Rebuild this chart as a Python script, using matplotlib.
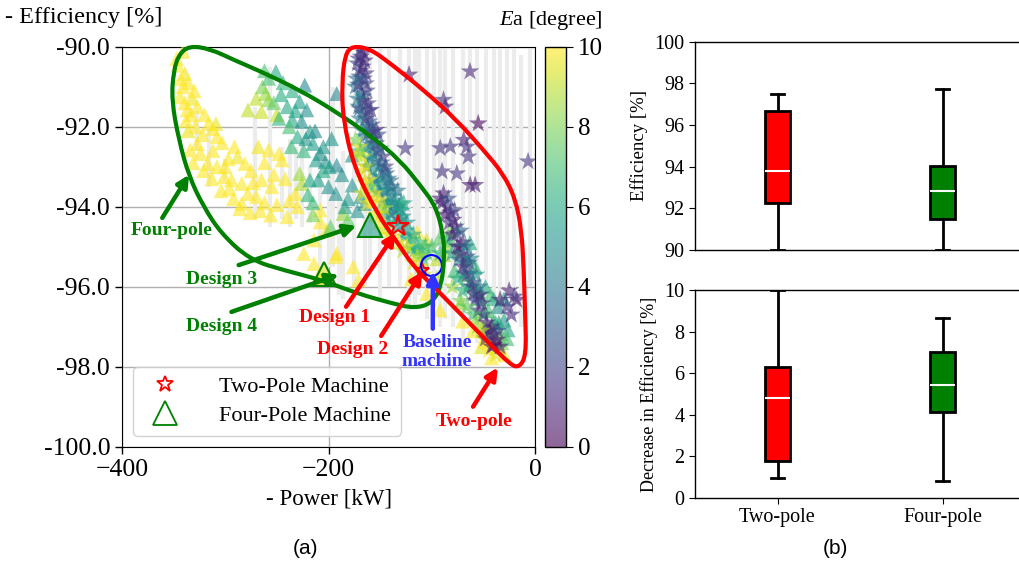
import numpy as np
import matplotlib
matplotlib.use("Agg")
import matplotlib.pyplot as plt
from matplotlib.path import Path
from matplotlib.patches import PathPatch
from matplotlib.lines import Line2D

plt.rcParams['font.family'] = ['Liberation Serif', 'DejaVu Serif']
plt.rcParams['mathtext.fontset'] = 'custom'
plt.rcParams['mathtext.rm'] = 'Liberation Serif'
plt.rcParams['mathtext.it'] = 'Liberation Serif:italic'

# ---------------- data ----------------
# four-pole machines: power [kW], efficiency [%], Ea [degree]
four_pts = [
    (-341, -90.12, 10), (-346, -90.46, 10), (-339, -90.67, 9.8), (-341, -91.0, 10),
    (-344, -91.25, 10), (-332, -91.29, 9.8), (-337, -91.58, 10), (-327, -91.5, 10),
    (-316, -91.92, 10), (-309, -91.92, 9.8), (-308, -92.25, 10), (-327, -92.42, 10),
    (-334, -92.58, 10), (-324, -92.67, 10), (-317, -92.92, 10), (-308, -93.0, 10),
    (-301, -93.25, 10), (-294, -93.33, 10), (-291, -92.5, 10), (-288, -92.75, 9.8),
    (-281, -92.92, 10), (-284, -93.42, 10), (-278, -93.67, 10), (-284, -93.92, 10),
    (-270, -93.75, 10), (-268, -92.5, 9.8), (-258, -92.58, 10), (-248, -92.67, 10),
    (-245, -92.83, 10), (-265, -93.33, 10), (-255, -93.5, 10), (-232, -93.67, 10),
    (-256, -94.21, 10), (-240, -94.25, 10), (-208, -94.08, 10), (-208, -94.38, 10),
    (-336, -90.9, 10), (-330, -91.1, 10), (-338, -91.85, 10), (-322, -92.2, 10),
    (-312, -92.6, 10), (-300, -93.0, 10), (-296, -93.55, 10), (-273, -93.4, 10),
    (-262, -93.9, 10), (-250, -93.95, 10), (-242, -93.3, 10), (-347, -90.3, 10),
    (-336, -92.1, 9.7),
    (-343, -90.8, 10), (-339, -91.4, 10), (-333, -91.7, 10), (-329, -92.0, 10),
    (-331, -92.9, 10), (-321, -93.1, 10), (-313, -93.3, 10), (-304, -93.6, 10),
    (-292, -93.8, 10), (-286, -94.05, 10), (-276, -94.15, 10), (-266, -94.1, 10),
    (-320, -91.7, 10), (-312, -92.05, 10), (-303, -92.4, 10), (-297, -92.8, 10),
    (-275, -93.1, 10), (-262, -92.9, 10), (-253, -93.2, 10), (-238, -93.85, 10),
    (-230, -94.0, 10),
    (-278, -91.58, 9.0), (-270, -91.29, 9.0), (-265, -91.62, 9.2), (-261, -91.17, 8.5),
    (-258, -91.33, 8.3), (-228, -93.17, 8.5), (-226, -93.42, 8.8), (-264, -91.0, 8.0),
    (-250, -91.7, 9.2),
    (-202, -94.58, 10), (-193, -95.25, 10), (-214, -95.42, 10), (-224, -95.17, 10),
    (-210, -95.75, 10), (-186, -94.17, 8.5), (-181, -94.33, 7.5), (-171, -95.83, 10),
    (-176, -95.5, 10), (-214, -94.83, 10), (-192, -95.17, 10), (-114, -94.63, 10),
    (-105, -94.83, 9.5), (-105, -96.17, 10), (-92, -96.58, 10), (-120, -95.8, 10),
    (-251, -90.62, 6.0), (-258, -90.79, 7.0), (-223, -90.96, 4.5), (-240, -91.5, 6.0),
    (-228, -91.37, 5.5), (-221, -91.58, 5.0), (-248, -91.79, 6.5), (-235, -91.83, 6.0),
    (-226, -91.87, 5.0), (-218, -92.12, 5.5), (-230, -92.25, 6.0), (-215, -92.42, 5.5),
    (-208, -92.67, 5.0), (-212, -92.83, 5.5), (-203, -92.87, 5.0), (-192, -92.96, 4.5),
    (-218, -93.33, 6.0), (-210, -93.33, 5.5), (-200, -93.5, 5.0), (-192, -91.17, 4.5),
    (-244, -90.9, 6.5), (-235, -91.1, 6.2), (-177, -92.71, 5.0), (-193, -93.67, 5.0),
    (-177, -93.46, 5.0), (-165, -93.92, 5.0), (-184, -94.0, 5.5), (-169, -93.75, 5.0),
    (-197, -92.3, 5.2), (-205, -93.1, 6.0), (-224, -92.6, 6.5), (-238, -92.0, 7.0),
    (-215, -93.9, 6.8), (-198, -94.5, 7.5), (-215, -94.2, 8.0),
    (-246, -91.2, 6.2), (-232, -91.6, 5.8), (-222, -92.3, 5.2), (-213, -92.1, 4.8),
    (-205, -92.5, 5.2), (-199, -93.0, 5.5), (-187, -93.2, 5.0), (-181, -93.8, 5.3),
    (-172, -94.1, 5.0), (-220, -93.7, 6.5), (-236, -92.5, 6.8), (-253, -91.4, 7.5),
    (-262, -90.6, 7.0),
    (-92, -94.75, 7.5), (-82, -94.83, 7.0), (-63, -94.9, 6.0), (-66, -95.3, 7.0),
    (-58, -95.5, 6.5), (-48, -96.0, 6.0), (-43, -96.2, 7.0), (-40, -96.3, 6.0),
    (-30, -96.83, 5.5), (-26, -97.08, 6.0), (-33, -97.17, 7.5), (-36, -96.5, 5.0),
    (-49, -96.6, 7.5), (-56, -96.75, 8.5), (-72, -96.4, 8.5), (-44, -97.3, 9.5),
    (-36, -97.5, 10), (-29.5, -97.7, 10), (-52, -97.5, 9.5), (-82, -94.58, 8.0),
    (-70, -96.86, 10), (-60, -97.1, 10), (-49, -97.36, 10), (-42, -97.78, 10),
    (-88, -95.2, 8.5), (-78, -95.6, 7.0), (-62, -95.9, 6.5), (-38, -96.9, 6.5),
    (-30, -96.3, 5.5),
    (-45, -96.6, 7.0), (-40, -96.9, 6.5), (-35, -96.9, 5.8), (-32, -97.4, 8.0),
    (-27, -97.3, 7.0), (-47, -97.0, 8.0), (-41, -97.1, 8.5), (-52, -96.3, 6.5),
    (-55, -96.1, 7.0), (-68, -95.7, 7.5), (-74, -95.1, 8.0), (-86, -95.0, 8.5),
    (-95, -95.3, 9.0),
]

# two-pole machines: power [kW], efficiency [%], Ea [degree]
two_pts = [
    (-169, -90.05, 1.5), (-168.6, -90.25, 1.5), (-167, -90.5, 1.5), (-170, -90.75, 2),
    (-164, -90.92, 2), (-168.6, -91.17, 2.5), (-162, -91.42, 2), (-167, -91.67, 3),
    (-160.5, -91.87, 2.5), (-157, -92.12, 1.5), (-165, -92.25, 4), (-154, -92.42, 2),
    (-157, -92.67, 4.5), (-147.6, -92.75, 1.5), (-151, -93.0, 4.5), (-144, -93.17, 3),
    (-147.6, -93.42, 4.5), (-141, -93.58, 5), (-138, -93.75, 4.5), (-143, -93.92, 5.5),
    (-135, -94.08, 4.5), (-130, -93.92, 6), (-172, -90.42, 2), (-164, -90.67, 1.5),
    (-174, -91.0, 4), (-167, -91.25, 4.5), (-159, -91.58, 1.5), (-154, -92.08, 1.2),
    (-171, -91.5, 3.5), (-162, -92.0, 3.5), (-152, -92.2, 2.5), (-150, -92.55, 3.5),
    (-145, -93.0, 2), (-140, -93.35, 3.5), (-133, -93.6, 4), (-128, -94.25, 5),
    (-166, -90.15, 1.2), (-171, -90.3, 1.8), (-165, -90.35, 1), (-169, -90.6, 1.3),
    (-166, -90.8, 2.2), (-171, -90.95, 1.5), (-163, -91.1, 1.8), (-166, -91.35, 1.2),
    (-170, -91.55, 2.5), (-161, -91.6, 2), (-164, -91.8, 1.5), (-158, -91.95, 2.8),
    (-161, -92.15, 1.8), (-156, -92.3, 2.2), (-159, -92.45, 3), (-153, -92.6, 2.5),
    (-149, -92.9, 3), (-155, -92.85, 3.5), (-146, -93.1, 2.8), (-142, -93.3, 4),
    (-150, -93.25, 4), (-139, -93.5, 3.5), (-144, -93.6, 4.2), (-136, -93.85, 4.8),
    (-132, -94.0, 4.2), (-138, -94.0, 5.2), (-129, -94.1, 5.5), (-134, -94.25, 5.8),
    (-124, -94.4, 5.2), (-126, -94.75, 6), (-118, -94.7, 5.8), (-120, -95.05, 6.5),
    (-113, -95.1, 6.2), (-110, -95.2, 7.2), (-106, -95.0, 6.8),
    (-163, -92.5, 4.8), (-160, -92.8, 5), (-157, -93.1, 5.2), (-154, -93.4, 5),
    (-152, -93.6, 5.5), (-148, -93.9, 5.2), (-145, -94.2, 5.5), (-141, -94.4, 6),
    (-167, -92.1, 4.5), (-170, -91.8, 4.2), (-172, -91.3, 4), (-173, -90.8, 3.5),
    (-162.6, -93.0, 4), (-156, -93.33, 4.5), (-149.8, -93.67, 4.5), (-143.3, -93.92, 5),
    (-140, -94.17, 4), (-130.4, -94.33, 5), (-127, -93.92, 6), (-120.8, -94.83, 6.5),
    (-116, -95.08, 6), (-108, -95.33, 7), (-104.6, -95.17, 7.5), (-99.8, -95.0, 7),
    (-91.8, -95.17, 6.5), (-85, -94.83, 6.5), (-125, -94.6, 5.5), (-112, -94.9, 6.8),
    (-170, -92.5, 9.5), (-167, -92.75, 9.5), (-164, -93.0, 9), (-160.5, -93.33, 10),
    (-155.6, -93.67, 9.5), (-151, -93.83, 10), (-146, -94.04, 9), (-174, -92.33, 8),
    (-169, -92.62, 7), (-160.5, -93.5, 7.5), (-146.6, -94.58, 9.5), (-137, -94.75, 10),
    (-124, -95.0, 9.5), (-114, -95.25, 9), (-111, -95.5, 9.5), (-149.8, -94.17, 9),
    (-162.6, -93.92, 10), (-167.4, -93.67, 9.5), (-72, -96.36, 8), (-80, -96.0, 8.5),
    (-50, -97.3, 10), (-45, -97.6, 10), (-38, -97.7, 9.5), (-95, -95.8, 9),
    (-172, -92.7, 9), (-168, -93.1, 10), (-165, -93.4, 9.5), (-158, -93.9, 10),
    (-155, -94.2, 9.5), (-152, -94.4, 10), (-142, -94.7, 9.5), (-132, -94.9, 10),
    (-128, -95.1, 9), (-118, -95.4, 9.5), (-108, -95.7, 9),
    (-122, -90.7, 1), (-63, -90.62, 1.2), (-88.6, -91.33, 1.5), (-87, -91.5, 1),
    (-55, -91.92, 0.3), (-69, -92.33, 1), (-66, -92.5, 1.5), (-125.6, -92.54, 1.5),
    (-91.8, -92.54, 1.5), (-82, -92.5, 1.5), (-64.7, -92.75, 1.5), (-90, -93.12, 1.5),
    (-75.7, -93.17, 1.5), (-62.8, -93.46, 0.8), (-58, -93.46, 0.8), (-6.7, -92.87, 1.5),
    (-88.6, -93.67, 1), (-85, -94.0, 1.5), (-79, -94.33, 1), (-75.7, -94.67, 1.5),
    (-72.5, -95.0, 2), (-66, -95.25, 1.5), (-62.8, -95.67, 3), (-59.6, -96.17, 1),
    (-51.5, -96.42, 1.5), (-33.8, -96.33, 1), (-17.7, -96.33, 0.8), (-27.4, -96.5, 1.5),
    (-37, -97.33, 0.5), (-33.8, -97.5, 1), (-46.7, -97.17, 2), (-56.3, -96.25, 3),
    (-69, -95.67, 4), (-80.5, -95.17, 5), (-74, -95.33, 4.5), (-64.4, -96.0, 5.5),
    (-90, -93.9, 0.8), (-82, -94.15, 1.2), (-77, -94.5, 0.8), (-70, -94.9, 1),
    (-68, -95.4, 2.5), (-60, -95.9, 2), (-55, -96.6, 1), (-42, -97.0, 1.5),
    (-40, -97.45, 0.5),
    (-92, -93.8, 1), (-87, -94.2, 0.8), (-83, -94.4, 1.5), (-80, -94.7, 1.2),
    (-75, -95.0, 0.8), (-73, -95.2, 1.5), (-70, -95.5, 1.2), (-66, -95.7, 1.8),
    (-64, -95.4, 2.2), (-61, -96.0, 1.5), (-58, -96.35, 2), (-53, -96.2, 1.2),
    (-50, -96.7, 2.5), (-47, -96.9, 1), (-44, -97.1, 0.8), (-40, -97.2, 1.2),
    (-36, -97.1, 2), (-48, -97.3, 1.5), (-42, -97.5, 0.6), (-84, -93.8, 2.5),
    (-78, -94.1, 2), (-72, -94.6, 3.5), (-67, -95.0, 4), (-62, -95.3, 4.5),
    (-57, -95.7, 5), (-54, -96.0, 4), (-75, -95.8, 6), (-70, -96.1, 6.5),
    (-66, -96.5, 7.5), (-60, -96.7, 7), (-56, -97.0, 8.5), (-52, -97.1, 9),
    (-25, -96.1, 1), (-20, -96.25, 1.5), (-23, -96.7, 1.2),
]

# light gray efficiency ranges: power [kW], lowest, highest efficiency
range_x = [-316, -327, -271.5, -257, -231, -218, -208, -195.6, -186, -175,
           -149.8, -141.7, -122.4, -116, -112.8, -104.6, -91.8, -87, -69.3,
           -62.8, -56.3, -33.8, -27.4, -4.8,
           -160, -131, -98, -79, -47, -40, -20, -14, -300, -245, -237, -226,
           -200, -190, -165]
range_lo = [-93.5, -92.6, -94.3, -94.5, -94.3, -94.4, -96.0, -95.5, -96.3, -96.0,
            -96.3, -96.0, -96.6, -96.5, -96.2, -96.8, -97.0, -96.8, -97.3,
            -97.0, -97.4, -97.6, -97.4, -96.0,
            -95.5, -96.0, -96.5, -97.0, -97.3, -97.6, -96.8, -97.0, -93.3, -94.3,
            -94.5, -94.5, -95.5, -96.2, -96.0]
range_hi = [-92.0, -91.6, -91.5, -90.5, -92.5, -93.0, -92.5, -91.0, -92.6, -92.3,
            -90.0, -90.0, -90.0, -90.0, -90.0, -90.0, -90.0, -90.0, -90.0,
            -90.0, -90.0, -90.0, -90.0, -90.0,
            -90.0, -90.0, -90.0, -90.0, -90.0, -90.0, -90.0, -90.2, -92.8, -92.5,
            -92.3, -91.5, -93.0, -93.0, -92.5]

# selected designs
design_two = [(-132.4, -94.48, 5.0), (-109.5, -95.58, 8.0)]   # design 1, design 2
design_four = [(-160.0, -94.46, 5.5), (-204.0, -95.67, 9.5)]  # design 3, design 4
baseline = (-100.5, -95.45)

# box plots: whislo, q1, median, q3, whishi
groups = ['Two-pole', 'Four-pole']
eff_two = [90.0, 92.27, 93.8, 96.69, 97.49]
eff_four = [90.0, 91.49, 92.85, 94.05, 97.71]
dec_two = [0.94, 1.76, 4.8, 6.29, 10.0]
dec_four = [0.82, 4.13, 5.44, 7.02, 8.67]

# hand drawn group outlines
green_outline = [(-345, -90.2), (-335, -89.98), (-315, -90.05), (-290, -90.35), (-269, -90.58),
                 (-228, -91.08), (-190, -91.67), (-158, -92.25), (-131, -92.83), (-110, -93.5),
                 (-96, -94.0), (-89, -94.67), (-87.6, -95.3), (-91, -96.0), (-100, -96.42),
                 (-117, -96.54), (-138, -96.42), (-172, -96.17), (-207, -95.83), (-241.5, -95.6),
                 (-276, -95.33), (-304, -94.67), (-321, -94.0), (-335, -93.25), (-345, -92.33),
                 (-352, -91.33), (-350, -90.6)]
red_outline = [(-177, -89.98), (-160, -90.05), (-140, -90.42), (-108, -91.08), (-76, -91.83),
               (-50, -92.58), (-31, -93.17), (-19, -93.8), (-13, -94.6), (-11, -95.5),
               (-9.5, -96.7), (-8.5, -97.7), (-15, -98.02), (-24, -97.95), (-46.7, -97.35),
               (-72.5, -96.67), (-98, -96.0), (-117.6, -95.5), (-135, -94.83), (-153, -94.17),
               (-175.5, -93.0), (-186, -91.8), (-187, -90.9), (-184, -90.2)]

W, H = 1019, 568


def box(l, t, r, b):
    return [l / W, 1 - b / H, (r - l) / W, (b - t) / H]


fig = plt.figure(figsize=(W / 100, H / 100), dpi=100)
ax = fig.add_axes(box(122, 46.7, 535, 446.7))
cax = fig.add_axes(box(545, 46.7, 566, 446.7))
ax1 = fig.add_axes(box(695, 41.7, 1025, 250))
ax2 = fig.add_axes(box(695, 290, 1025, 498))

# ---------------- (a) scatter ----------------
ax.vlines(range_x, range_lo, range_hi, colors='#ececec', lw=3, zorder=1)

fx, fy, fe = zip(*four_pts)
tx, ty, te = zip(*two_pts)
ax.scatter(fx, fy, c=fe, cmap='viridis', vmin=0, vmax=10, marker='^', s=115,
           alpha=0.6, lw=0, zorder=3)
sc = ax.scatter(tx, ty, c=te, cmap='viridis', vmin=0, vmax=10, marker='*', s=200,
                alpha=0.6, lw=0, zorder=4)

cmap = plt.get_cmap('viridis')
for (x, y, e), ms in zip(design_two, [16, 10]):
    ax.plot(x, y, marker='*', ms=ms, mfc=cmap(e / 10), mec='none', alpha=0.6,
            ls='none', zorder=6)
    ax.plot(x, y, marker='*', ms=ms, mfc='none', mec='red', mew=1.5,
            ls='none', zorder=7)
for x, y, e in design_four:
    ax.plot(x, y, marker='^', ms=17, mfc=cmap(e / 10), alpha=0.6, mec='none',
            ls='none', zorder=6)
    ax.plot(x, y, marker='^', ms=17, mfc='none', mec='green', mew=1.5,
            ls='none', zorder=7)
ax.plot(*baseline, marker='o', ms=15, mfc='none', mec='blue', mew=1.5, zorder=8)


def closed_curve(pts, color):
    p = np.array(pts, dtype=float)
    mid = (p + np.roll(p, -1, axis=0)) / 2
    verts = [mid[-1]]
    codes = [Path.MOVETO]
    for i in range(len(p)):
        verts += [p[i], mid[i]]
        codes += [Path.CURVE3, Path.CURVE3]
    ax.add_patch(PathPatch(Path(verts, codes), fill=False, ec=color, lw=3,
                           zorder=9, clip_on=False))


closed_curve(green_outline, 'green')
closed_curve(red_outline, 'red')

notes = [
    ('Four-pole', 'green', (-352, -94.6), (-361, -94.28), (-335, -93.2)),
    ('Design 3', 'green', (-304, -95.83), (-287, -95.46), (-173, -94.48)),
    ('Design 4', 'green', (-304, -97.0), (-294, -96.63), (-190, -95.7)),
    ('Design 1', 'red', (-194, -96.78), (-183, -96.5), (-135, -94.65)),
    ('Design 2', 'red', (-177, -97.58), (-149, -97.23), (-109, -95.62)),
    ('Baseline\nmachine', '#3333ff', (-95, -97.63), (-99, -97.05), (-99, -95.62)),
    ('Two-pole', 'red', (-59, -99.36), (-60, -99.0), (-36, -98.02)),
]
for label, c, tpos, tail, head in notes:
    ax.annotate('', xy=head, xytext=tail, zorder=10,
                arrowprops=dict(arrowstyle='-|>,head_length=0.7,head_width=0.35',
                                lw=3.2, color=c, shrinkA=0, shrinkB=0))
    ax.text(*tpos, label, color=c, fontsize=14, fontweight='bold', ha='center',
            va='center', linespacing=1.1, zorder=10)

ax.set_xlim(-400, 0)
ax.set_ylim(-100, -90)
ax.set_xticks([-400, -200, 0])
yt = np.arange(-100, -89, 2)
ax.set_yticks(yt)
ax.set_yticklabels([f'{v:.1f}' for v in yt])
ax.tick_params(labelsize=18.5, length=5, width=1)
ax.grid(True, color='#b0b0b0', lw=1)
ax.set_axisbelow(True)

leg_handles = [
    Line2D([], [], marker='*', ls='none', mfc='none', mec='red', ms=12, mew=1.3),
    Line2D([], [], marker='^', ls='none', mfc='none', mec='green', ms=17, mew=1.3),
]
leg = ax.legend(leg_handles, ['Two-Pole Machine', 'Four-Pole Machine'], loc='lower left',
                fontsize=16, handletextpad=1.4, borderpad=0.45, labelspacing=0.35,
                borderaxespad=0.5, framealpha=0.85)
leg.set_zorder(11)

cb = fig.colorbar(sc, cax=cax)
cb.set_ticks([0, 2, 4, 6, 8, 10])
cb.ax.tick_params(labelsize=18, length=5)
cb.outline.set_linewidth(1)

fig.text(5 / W, 1 - 18 / H, '- Efficiency [%]', fontsize=17.5, ha='left', va='center')
fig.text(551 / W, 1 - 20 / H, '$E$a [degree]', fontsize=16, ha='center', va='center')
fig.text(329 / W, 1 - 499 / H, '- Power [kW]', fontsize=16.5, ha='center', va='center')
fig.text(305 / W, 1 - 548 / H, '(a)', fontsize=15, ha='center', va='center',
         family='Liberation Sans')
fig.text(835 / W, 1 - 548 / H, '(b)', fontsize=15, ha='center', va='center',
         family='Liberation Sans')

# ---------------- (b) box plots ----------------
def stats(vals, name):
    lo, q1, med, q3, hi = vals
    return dict(whislo=lo, q1=q1, med=med, q3=q3, whishi=hi, fliers=[], label=name)


for a, two, four in [(ax1, eff_two, eff_four), (ax2, dec_two, dec_four)]:
    bp = a.bxp([stats(two, groups[0]), stats(four, groups[1])], positions=[1, 2],
               widths=0.15, patch_artist=True, showfliers=False,
               boxprops=dict(lw=2, edgecolor='black'),
               whiskerprops=dict(lw=2), capprops=dict(lw=2),
               medianprops=dict(color='white', lw=1.5))
    for patch, col in zip(bp['boxes'], ['red', 'green']):
        patch.set_facecolor(col)
    a.set_xlim(0.5, 2.5)
    a.tick_params(labelsize=14.5, length=4)
    for s in a.spines.values():
        s.set_linewidth(1)

ax1.set_ylim(90, 100)
ax1.set_yticks(range(90, 101, 2))
ax1.tick_params(axis='x', bottom=False, labelbottom=False)
ax1.set_ylabel('Efficiency [%]', fontsize=13.5)
ax1.yaxis.set_label_coords(-0.142, 0.5)
ax2.set_ylim(0, 10)
ax2.set_yticks(range(0, 11, 2))
ax2.set_xticks([1, 2])
ax2.set_xticklabels(groups, fontsize=14.5)
ax2.set_ylabel('Decrease in Efficiency [%]', fontsize=13)
ax2.yaxis.set_label_coords(-0.112, 0.5)

fig.savefig('out.png', dpi=100)
